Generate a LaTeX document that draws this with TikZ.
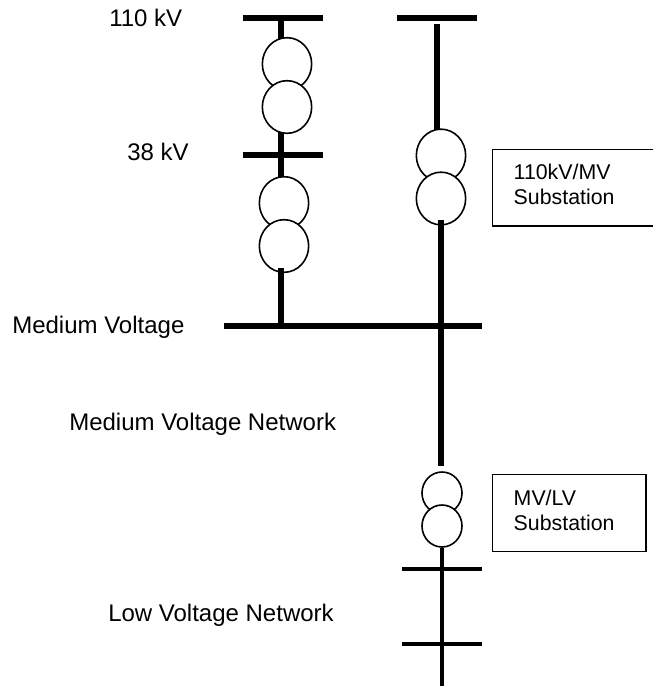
\documentclass[tikz,border=0pt]{standalone}
\usepackage{fontspec}
\setmainfont{Liberation Sans}
\usepackage{tikz}
\usetikzlibrary{shapes.geometric}

\tikzset{
  bus/.style={line width=4.5pt},
  lvbus/.style={line width=3pt},
  winding/.style={ellipse,draw,fill=white,line width=1.2pt,inner sep=0pt,minimum width=37pt,minimum height=39.5pt},
  smallwinding/.style={ellipse,draw,fill=white,line width=1.2pt,inner sep=0pt,minimum width=30pt,minimum height=31.5pt},
  subbox/.style={draw,line width=1.1pt,anchor=north west,minimum height=57.5pt,align=left,inner xsep=0pt,inner ysep=0pt,text depth=23pt,font=\fontsize{16}{18.4}\selectfont},
  lab/.style={anchor=base west,inner sep=0pt,font=\fontsize{18}{20}\selectfont}
}

\begin{document}
\begin{tikzpicture}[x=0.75pt,y=-0.75pt]
        \useasboundingbox (0, 0) rectangle (653, 686);
        \clip (0, 0) rectangle (653, 686);

        % busbars
        \coordinate (HVa) at (243, 18);
        \coordinate (HVb) at (323, 18);
        \coordinate (HVc) at (397, 18);
        \coordinate (HVd) at (477, 18);
        \coordinate (SVa) at (243, 154.5);
        \coordinate (SVb) at (323, 154.5);
        \coordinate (MVa) at (224, 325.5);
        \coordinate (MVb) at (482, 325.5);
        \coordinate (LVa) at (402, 569);
        \coordinate (LVb) at (482, 569);
        \coordinate (LVc) at (402, 644);
        \coordinate (LVd) at (482, 644);
        \draw[bus] (HVa) to (HVb);
        \draw[bus] (HVc) to (HVd);
        \draw[bus] (SVa) to (SVb);
        \draw[bus] (MVa) to (MVb);
        \draw[lvbus] (LVa) to (LVb);
        \draw[lvbus] (LVc) to (LVd);

        % left column
        \coordinate (A1) at (281, 18);
        \coordinate (A2) at (281, 45);
        \coordinate (A3) at (281, 128);
        \coordinate (A4) at (281, 185);
        \coordinate (A5) at (281, 268);
        \coordinate (A6) at (281, 325.5);
        \draw[bus] (A1) to (A2);
        \draw[bus] (A3) to (A4);
        \node[winding] (T1) at (287, 64) {};
        \node[winding] (T2) at (287, 107) {};
        \node[winding] (T3) at (284, 203) {};
        \node[winding] (T4) at (284, 246) {};
        \draw[bus] (A5) to (A6);

        % right column
        \coordinate (B1) at (437, 24);
        \coordinate (B2) at (437, 135);
        \coordinate (B3) at (441, 220);
        \coordinate (B4) at (441, 466);
        \draw[bus] (B1) to (B2);
        \node[winding] (T5) at (441, 155.5) {};
        \node[winding] (T6) at (441, 198.5) {};
        \draw[bus] (B3) to (B4);

        % low voltage column
        \node[smallwinding] (T7) at (442, 493) {};
        \node[smallwinding] (T8) at (442, 526) {};
        \coordinate (C2) at (442, 686);
        \draw[lvbus] (T8.south) to (C2);

        % substations
        \node[subbox,minimum width=132pt,text width=100.5pt] (S1) at (492, 148.5) {110kV/MV\\Substation};
        \node[subbox,minimum width=115pt,text width=83.5pt] (S2) at (492, 474) {MV/LV\\Substation};

        % labels
        \node[lab] (L1) at (109, 26.5) {110 kV};
        \node[lab] (L2) at (127, 160.5) {38 kV};
        \node[lab] (L3) at (12, 333) {Medium Voltage};
        \node[lab] (L4) at (69, 430) {Medium Voltage Network};
        \node[lab] (L5) at (108, 621.5) {Low Voltage Network};
      \end{tikzpicture}
\end{document}
